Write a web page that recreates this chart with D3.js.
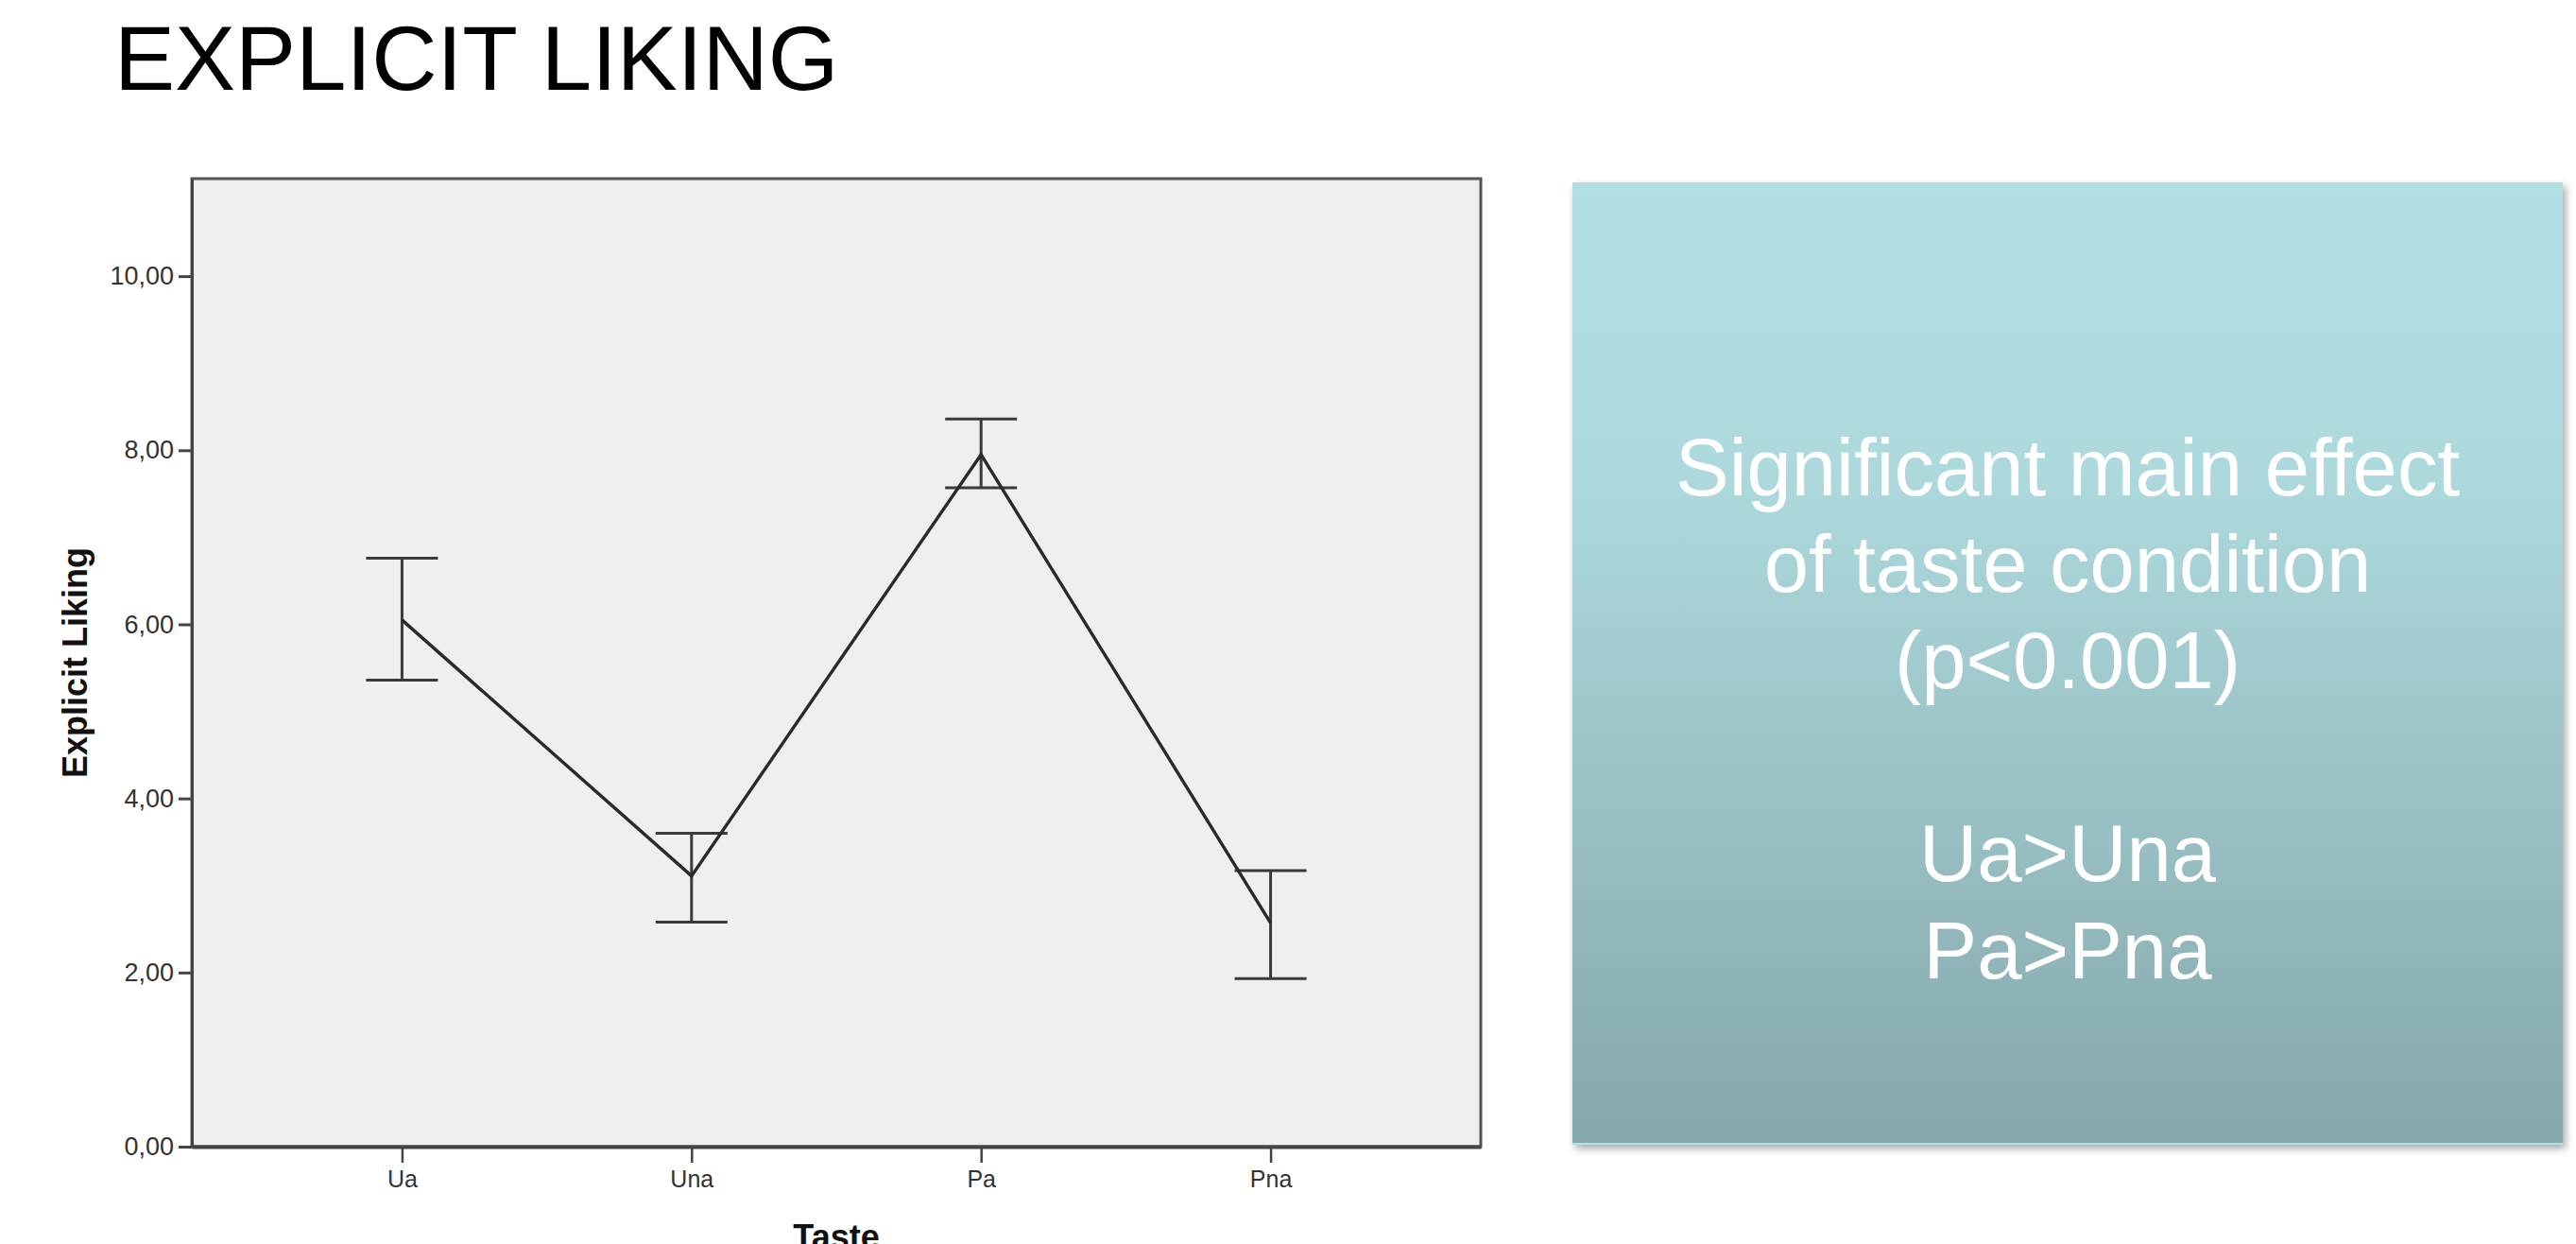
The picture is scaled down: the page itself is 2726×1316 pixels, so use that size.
<!DOCTYPE html>
<html>
<head>
<meta charset="utf-8">
<script src="https://cdn.jsdelivr.net/npm/d3@7"></script>
<style>
body{margin:0;background:#fff}
svg{display:block}
.axis text{font-family:Arial,"Liberation Sans",sans-serif;fill:#333}
.axis path,.axis line{stroke:#444}
</style>
</head>
<body>
<svg id="slide"></svg>
<script>
// values
var categories=["Ua","Una","Pa","Pna"];
var means=[6.05,3.11,7.95,2.57];
var upper=[6.76,3.60,8.36,3.17];
var lower=[5.36,2.58,7.57,1.93];
var yTicks=[0,2,4,6,8,10];
var boxLines=["Significant main effect","of taste condition","(p<0.001)","","Ua>Una","Pa>Pna"];

var screen={width:2726,height:1316}
var margins={left:203,top:189}
var graph={width:1364,height:1024}

var svg=d3.select("#slide")
    .attr("width",screen.width)
    .attr("height",screen.height)

var initSlide=function()
    {
        svg.append("text")
            .text("EXPLICIT LIKING")
            .attr("x",121)
            .attr("y",95)
            .style("font-family","Arial, 'Liberation Sans', sans-serif")
            .style("font-size","96px")
            .attr("fill","#000")

        var xScale=d3.scalePoint()
            .domain(categories)
            .range([0,graph.width])
            .padding(0.726)

        var yScale=d3.scaleLinear()
            .domain([0,11.12])
            .range([graph.height,0])

        var target=svg.append("g")
            .attr("id","canvas")
            .attr("transform","translate("+margins.left+","+margins.top+")")

        target.append("rect")
            .attr("width",graph.width)
            .attr("height",graph.height)
            .attr("fill","#efefef")
            .attr("stroke","#555")
            .attr("stroke-width",3)

        drawAxes(target,xScale,yScale)
        drawLines(target,xScale,yScale)
        drawLabels()
        drawBox()
    }

var drawLines=function(target,xScale,yScale)
    {
        var rows=categories.map(function(c,i)
            {
                return {cat:c,mean:means[i],hi:upper[i],lo:lower[i]}
            })

        var bars=target.selectAll(".err")
            .data(rows)
            .enter()
            .append("g")
            .classed("err",true)
            .attr("stroke","#3a3a3a")
            .attr("stroke-width",3)

        bars.append("line")
            .attr("x1",function(d){return xScale(d.cat)})
            .attr("x2",function(d){return xScale(d.cat)})
            .attr("y1",function(d){return yScale(d.hi)})
            .attr("y2",function(d){return yScale(d.lo)})
        bars.append("line")
            .attr("x1",function(d){return xScale(d.cat)-38})
            .attr("x2",function(d){return xScale(d.cat)+38})
            .attr("y1",function(d){return yScale(d.hi)})
            .attr("y2",function(d){return yScale(d.hi)})
        bars.append("line")
            .attr("x1",function(d){return xScale(d.cat)-38})
            .attr("x2",function(d){return xScale(d.cat)+38})
            .attr("y1",function(d){return yScale(d.lo)})
            .attr("y2",function(d){return yScale(d.lo)})

        var lineGenerator=d3.line()
            .x(function(d){return xScale(d.cat)})
            .y(function(d){return yScale(d.mean)})

        target.append("path")
            .datum(rows)
            .attr("d",lineGenerator)
            .attr("fill","none")
            .attr("stroke","#2a2a2a")
            .attr("stroke-width",3.4)
    }

var drawAxes=function(target,xScale,yScale)
    {
        var comma=d3.formatLocale({decimal:",",thousands:".",grouping:[3],currency:["",""]}).format(".2f")

        var yAxis=d3.axisLeft(yScale)
            .tickValues(yTicks)
            .tickFormat(comma)
            .tickSize(14)
            .tickSizeOuter(0)
            .tickPadding(5)
        target.append("g")
            .classed("axis",true)
            .call(yAxis)
            .call(function(g)
                {
                    g.select(".domain").attr("stroke-width",3)
                    g.selectAll(".tick line").attr("stroke-width",3)
                    g.selectAll(".tick text").style("font-size","27px")
                })

        var xAxis=d3.axisBottom(xScale)
            .tickSize(17)
            .tickSizeOuter(0)
            .tickPadding(8)
        target.append("g")
            .classed("axis",true)
            .attr("transform","translate(0,"+graph.height+")")
            .call(xAxis)
            .call(function(g)
                {
                    g.select(".domain").attr("stroke-width",4)
                    g.selectAll(".tick line").attr("stroke-width",2.5)
                    g.selectAll(".tick text").style("font-size","25px")
                })
    }

var drawLabels=function()
    {
        var labels=svg.append("g")
            .style("font-family","Arial, 'Liberation Sans', sans-serif")
            .style("font-weight","bold")
            .style("font-size","36px")
            .attr("fill","#111")

        labels.append("g")
            .attr("transform","translate(92,"+(margins.top+graph.height/2)+")")
            .append("text")
            .text("Explicit Liking")
            .attr("text-anchor","middle")
            .attr("transform","rotate(-90)")

        labels.append("text")
            .text("Taste")
            .attr("text-anchor","middle")
            .attr("x",margins.left+graph.width/2)
            .attr("y",1321)
    }

var drawBox=function()
    {
        var box={x:1664,y:193,width:1048,height:1018}
        var defs=svg.append("defs")
        var grad=defs.append("linearGradient")
            .attr("id","boxFill")
            .attr("x1",0).attr("y1",0)
            .attr("x2",0).attr("y2",1)
        grad.append("stop").attr("offset","0%").attr("stop-color","#b1e0e4")
        grad.append("stop").attr("offset","30%").attr("stop-color","#add9dd")
        grad.append("stop").attr("offset","100%").attr("stop-color","#85a8ab")

        defs.append("filter")
            .attr("id","shadow")
            .attr("x","-5%").attr("y","-5%")
            .attr("width","110%").attr("height","110%")
            .append("feDropShadow")
            .attr("dx",3).attr("dy",4)
            .attr("stdDeviation",4)
            .attr("flood-color","#000")
            .attr("flood-opacity",0.35)

        svg.append("rect")
            .attr("x",box.x)
            .attr("y",box.y)
            .attr("width",box.width)
            .attr("height",box.height)
            .attr("fill","url(#boxFill)")
            .attr("filter","url(#shadow)")

        svg.append("line")
            .attr("x1",box.x).attr("x2",box.x+box.width)
            .attr("y1",box.y+box.height-1).attr("y2",box.y+box.height-1)
            .attr("stroke","#b4e1e6")
            .attr("stroke-width",2)

        svg.append("g")
            .selectAll("text")
            .data(boxLines)
            .enter()
            .append("text")
            .text(function(d){return d})
            .attr("x",box.x+box.width/2)
            .attr("y",function(d,i){return i<3 ? 524+i*102 : 932+(i-4)*103})
            .attr("text-anchor","middle")
            .style("font-family","Arial, 'Liberation Sans', sans-serif")
            .style("font-size","85px")
            .attr("fill","#fff")
    }

initSlide();
</script>
</body>
</html>
